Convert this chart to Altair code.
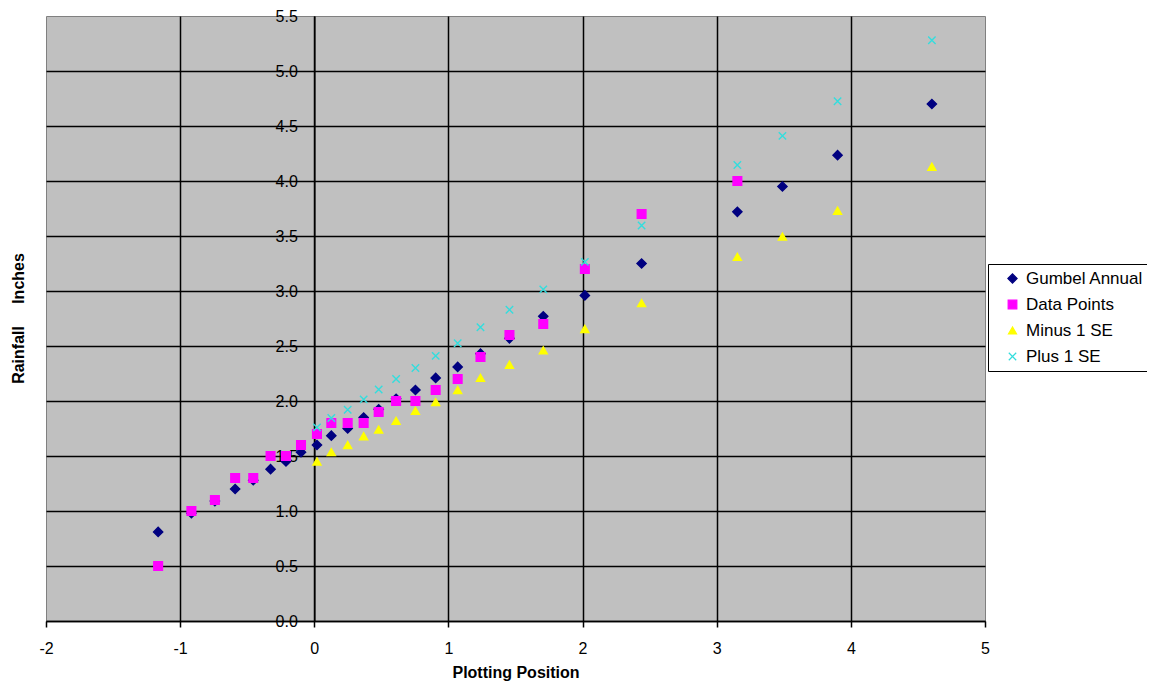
import altair as alt
import pandas as pd

# Plotting positions (Gumbel reduced variate)
x_pos = [-1.164, -0.916, -0.741, -0.590, -0.455, -0.326, -0.211, -0.099, 0.020, 0.127,
         0.249, 0.368, 0.480, 0.610, 0.754, 0.905, 1.069, 1.239, 1.455, 1.707,
         2.017, 2.440, 3.154, 3.490, 3.901, 4.604]

gumbel = [0.81, 0.98, 1.09, 1.20, 1.28, 1.38, 1.45, 1.535, 1.60, 1.685,
          1.75, 1.85, 1.925, 2.02, 2.10, 2.21, 2.31, 2.43, 2.57, 2.77,
          2.96, 3.25, 3.72, 3.95, 4.235, 4.70]

data_points = [0.5, 1.0, 1.1, 1.3, 1.3, 1.5, 1.5, 1.6, 1.7, 1.8,
               1.8, 1.8, 1.9, 2.0, 2.0, 2.1, 2.2, 2.4, 2.6, 2.7,
               3.2, 3.7, 4.0]

minus_se = [1.45, 1.535, 1.60, 1.68, 1.74, 1.82, 1.91, 1.99, 2.10, 2.21,
            2.33, 2.46, 2.655, 2.89, 3.31, 3.495, 3.73, 4.13]

plus_se = [1.76, 1.845, 1.92, 2.015, 2.105, 2.20, 2.30, 2.41, 2.525, 2.67,
           2.83, 3.015, 3.265, 3.595, 4.145, 4.41, 4.725, 5.28]

series_names = ["Gumbel Annual", "Data Points", "Minus 1 SE", "Plus 1 SE"]
series_colors = ["#000080", "#FF00FF", "#FFFF00", "#33DDDD"]
series_shapes = ["diamond", "square", "triangle-up", "M-1,-1L1,1M-1,1L1,-1"]
series_sizes = [85, 55, 70, 40]

x_ticks = [-2, -1, 0, 1, 2, 3, 4, 5]
y_ticks = [0.0, 0.5, 1.0, 1.5, 2.0, 2.5, 3.0, 3.5, 4.0, 4.5, 5.0, 5.5]

rows = []
for name, vals, start in [
    ("Gumbel Annual", gumbel, 0),
    ("Data Points", data_points, 0),
    ("Minus 1 SE", minus_se, 8),
    ("Plus 1 SE", plus_se, 8),
]:
    for i, v in enumerate(vals):
        rows.append({"series": name, "x": x_pos[start + i], "y": v})
df = pd.DataFrame(rows)

W, H = 939, 605
x_min, x_max = -2, 5
y_axis_offset = -W * (0 - x_min) / (x_max - x_min)

FONT = "Liberation Sans"


def make_legend():
    return alt.Legend(title=None, orient="none", legendX=942, legendY=248,
                      fillColor="white", strokeColor="black",
                      padding=6, rowPadding=8,
                      symbolOffset=10, labelOffset=5,
                      symbolSize=55, symbolStrokeWidth=1.2,
                      labelFont=FONT, labelFontSize=17, labelColor="black",
                      labelLimit=300)


points = alt.Chart(df).mark_point(filled=True, strokeWidth=1.4, opacity=1).encode(
    x=alt.X("x:Q",
            scale=alt.Scale(domain=[x_min, x_max], nice=False, zero=False),
            axis=alt.Axis(values=x_ticks, title="Plotting Position",
                          labelExpr="'' + datum.value",
                          grid=True, gridColor="black", gridWidth=1.5,
                          gridOpacity={"condition": {"test": "datum.value <= -2 || datum.value >= 5", "value": 0}, "value": 1},
                          domainColor="black", domainWidth=1.5,
                          tickColor="black", tickSize=6, tickWidth=1.5,
                          labelFont=FONT, labelFontSize=16, labelColor="black",
                          labelPadding=13, labelFlush=False, labelOverlap=False,
                          titleFont=FONT, titleFontSize=16, titleFontWeight="bold",
                          titleColor="black", titlePadding=8)),
    y=alt.Y("y:Q",
            scale=alt.Scale(domain=[0, 5.5], nice=False, zero=True),
            axis=alt.Axis(values=y_ticks, format=".1f", title=None,
                          offset=y_axis_offset,
                          grid=True, gridColor="black", gridWidth=1.5,
                          gridOpacity={"condition": {"test": "datum.value >= 5.5", "value": 0}, "value": 1},
                          domainColor="black", domainWidth=1.5,
                          ticks=False, tickSize=0,
                          labelFont=FONT, labelFontSize=16, labelColor="black",
                          labelPadding=17, labelFlush=False, labelOverlap=False)),
    color=alt.Color("series:N",
                    scale=alt.Scale(domain=series_names, range=series_colors),
                    legend=make_legend()),
    stroke=alt.Stroke("series:N",
                      scale=alt.Scale(domain=series_names, range=series_colors),
                      legend=make_legend()),
    shape=alt.Shape("series:N",
                    scale=alt.Scale(domain=series_names, range=series_shapes),
                    legend=make_legend()),
    size=alt.Size("series:N",
                  scale=alt.Scale(domain=series_names, range=series_sizes),
                  legend=None),
)

ytitle_df = pd.DataFrame({"t": ["Rainfall\u00a0\u00a0\u00a0\u00a0\u00a0Inches"]})
ytitle = alt.Chart(ytitle_df).mark_text(
    angle=270, font=FONT, fontSize=16, fontWeight="bold", color="black",
    align="center", baseline="middle"
).encode(
    text="t:N",
    x=alt.value(-27),
    y=alt.value(H / 2),
)

chart = alt.layer(points, ytitle).properties(
    width=W, height=H,
    padding={"left": 38, "top": 8, "right": 162, "bottom": 62},
    autosize=alt.AutoSizeParams(type="none"),
    background="white",
).configure_view(
    fill="#C0C0C0", stroke="#808080", strokeWidth=1
)

chart.save("out.html", embed_options={"renderer": "svg", "actions": False})
